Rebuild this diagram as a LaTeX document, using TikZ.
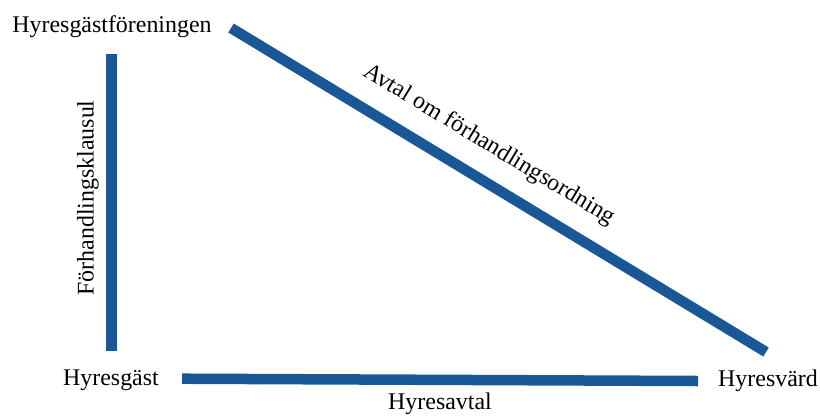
\documentclass[tikz,border=0pt]{standalone}
\usepackage{fontspec}
\setmainfont{Liberation Serif}
\definecolor{barblue}{RGB}{26,87,150}
\begin{document}
\begin{tikzpicture}[x=1bp,y=-1bp,
  bar/.style={draw=barblue,line width=10.5bp,line cap=butt},
  lbl/.style={inner sep=0pt,font=\fontsize{24}{28}\selectfont,text=black}]
\useasboundingbox (0,0) rectangle (820,417);
% labels
\node[lbl] (hf) at (112,27) {Hyresgästföreningen};
\node[lbl] (hg) at (111,380) {Hyresgäst};
\node[lbl] (hv) at (768,381) {Hyresvärd};
% bar ends
\coordinate (vtop) at (111.7,54);
\coordinate (vbot) at (111.7,351);
\coordinate (dtop) at (231,28);
\coordinate (dbot) at (766,352);
\coordinate (hl) at (182,378.7);
\coordinate (hr) at (698,381);
% bars
\draw[bar] (vtop) -- (vbot);
\draw[bar] (dtop) -- (dbot);
\draw[bar] (hl) -- (hr);
% edge labels
\node[lbl,rotate=90] (fk) at (88,198) {Förhandlingsklausul};
\node[lbl] (ha) at (440,404) {Hyresavtal};
\node[lbl,rotate=-31.2] (ao) at (489,145) {Avtal om förhandlingsordning};
\end{tikzpicture}
\end{document}
